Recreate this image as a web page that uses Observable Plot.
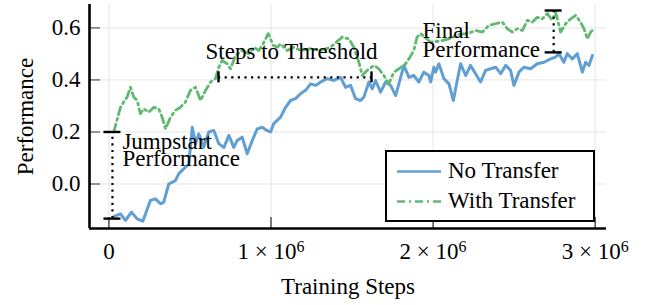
<!DOCTYPE html>
<html><head><meta charset="utf-8">
<script src="https://cdn.jsdelivr.net/npm/d3@7"></script>
<script src="https://cdn.jsdelivr.net/npm/@observablehq/plot@0.6"></script>
<style>
body{margin:0;background:#fff;}
#wrap{position:relative;width:657px;height:305px;font-family:"Liberation Serif",serif;}
#legend{position:absolute;left:385px;top:150px;width:210px;height:72px;box-sizing:border-box;border:2px solid #000;background:#fff;}
.lrow{position:absolute;left:10px;height:20px;font-size:23px;line-height:20px;white-space:nowrap;}
.lrow svg{position:absolute;left:0;top:0;}
.lrow span{position:absolute;left:51px;top:0px;}
</style>
</head><body>
<div id="wrap"></div>
<script>
// ---- data (x in millions of steps) ----
const noTransferX = [0.030,0.071,0.102,0.139,0.174,0.209,0.256,0.287,0.318,0.338,0.369,0.410,0.431,0.472,0.493,0.514,0.534,0.554,0.585,0.616,0.647,0.678,0.709,0.740,0.770,0.791,0.822,0.853,0.884,0.915,0.946,0.977,0.997,1.017,1.059,1.090,1.120,1.151,1.182,1.213,1.244,1.275,1.306,1.347,1.388,1.429,1.460,1.491,1.522,1.552,1.573,1.604,1.625,1.645,1.676,1.707,1.738,1.769,1.789,1.820,1.851,1.881,1.912,1.943,1.974,1.985,2.005,2.015,2.036,2.067,2.098,2.125,2.149,2.170,2.201,2.231,2.262,2.293,2.324,2.355,2.386,2.417,2.448,2.478,2.499,2.530,2.560,2.602,2.643,2.684,2.725,2.756,2.777,2.807,2.828,2.859,2.890,2.921,2.941,2.962,2.983];
const noTransferY = [-0.125,-0.115,-0.140,-0.108,-0.134,-0.143,-0.063,-0.057,-0.076,-0.070,0.000,0.013,0.040,0.065,0.078,0.218,0.155,0.193,0.142,0.200,0.206,0.155,0.140,0.187,0.141,0.167,0.180,0.116,0.167,0.212,0.218,0.205,0.200,0.232,0.257,0.295,0.321,0.328,0.347,0.360,0.385,0.379,0.392,0.405,0.398,0.410,0.372,0.379,0.328,0.321,0.334,0.392,0.366,0.398,0.353,0.392,0.379,0.340,0.385,0.456,0.410,0.417,0.392,0.430,0.417,0.392,0.449,0.430,0.462,0.405,0.385,0.321,0.398,0.462,0.417,0.456,0.424,0.392,0.437,0.443,0.449,0.424,0.456,0.437,0.379,0.430,0.449,0.443,0.462,0.468,0.481,0.488,0.501,0.468,0.501,0.481,0.501,0.430,0.468,0.456,0.494];
const withTransferX = [0.030,0.051,0.071,0.091,0.112,0.133,0.153,0.174,0.194,0.215,0.246,0.277,0.307,0.328,0.349,0.380,0.410,0.441,0.472,0.503,0.534,0.565,0.596,0.627,0.657,0.678,0.699,0.730,0.750,0.781,0.822,0.863,0.894,0.925,0.956,0.983,1.014,1.038,1.059,1.100,1.141,1.182,1.244,1.306,1.367,1.440,1.480,1.511,1.542,1.563,1.594,1.635,1.665,1.696,1.727,1.758,1.789,1.830,1.851,1.881,1.901,1.923,1.985,2.046,2.108,2.157,2.211,2.262,2.304,2.344,2.386,2.427,2.458,2.489,2.520,2.551,2.581,2.612,2.643,2.674,2.705,2.736,2.756,2.787,2.818,2.849,2.880,2.910,2.931,2.952,2.972,2.983];
const withTransferY = [0.200,0.250,0.295,0.315,0.334,0.372,0.334,0.321,0.270,0.289,0.276,0.295,0.289,0.257,0.212,0.257,0.283,0.295,0.315,0.360,0.372,0.321,0.360,0.392,0.405,0.449,0.475,0.462,0.443,0.494,0.513,0.501,0.526,0.513,0.545,0.578,0.533,0.526,0.539,0.513,0.526,0.513,0.520,0.513,0.526,0.565,0.558,0.526,0.468,0.417,0.437,0.456,0.443,0.417,0.385,0.430,0.443,0.462,0.481,0.513,0.565,0.578,0.545,0.550,0.560,0.575,0.578,0.590,0.584,0.610,0.616,0.622,0.597,0.584,0.597,0.590,0.629,0.622,0.641,0.635,0.655,0.629,0.661,0.584,0.616,0.635,0.648,0.622,0.597,0.558,0.584,0.590];
const seriesNames = ["No Transfer", "With Transfer"];
const xTicks = [0, 1e6, 2e6, 3e6];
const yTicks = [0, 0.2, 0.4, 0.6];
// annotations
const jumpstart = {x: 0.0216e6, y1: -0.133, y2: 0.2};
const finalPerf = {x: 2.744e6, y1: 0.506, y2: 0.667};
const threshold = {y: 0.41, x1: 0.676e6, x2: 1.62e6};
const annotationLabels = [
  {text: "Steps to Threshold", x: 0.596e6, y: 0.482, lh: 1},
  {text: "Jumpstart\nPerformance", x: 0.083e6, y: 0.071, lh: 0.72},
  {text: "Final\nPerformance", x: 1.935e6, y: 0.487, lh: 0.86}
];

const blue = "#5f9fd3", green = "#5fba70";
const noTransfer = noTransferX.map((x, i) => ({x: x * 1e6, y: noTransferY[i]}));
const withTransfer = withTransferX.map((x, i) => ({x: x * 1e6, y: withTransferY[i]}));
const xDomain = [-0.12e6, 3.07e6], yDomain = [-0.171, 0.69];
const capH = [
  {x: jumpstart.x, y: jumpstart.y1}, {x: jumpstart.x, y: jumpstart.y2},
  {x: finalPerf.x, y: finalPerf.y1}, {x: finalPerf.x, y: finalPerf.y2}
];
const capV = [{x: threshold.x1, y: threshold.y}, {x: threshold.x2, y: threshold.y}];

const plot = Plot.plot({
  width: 657, height: 305,
  marginLeft: 89, marginRight: 51, marginTop: 4, marginBottom: 77,
  style: {fontFamily: "'Liberation Serif', serif", fontSize: "23px", color: "#000", background: "transparent", overflow: "visible"},
  x: {domain: xDomain},
  y: {domain: yDomain},
  marks: [
    Plot.gridX(xTicks, {stroke: "#e5e5e5", strokeOpacity: 1, strokeWidth: 1}),
    Plot.gridY(yTicks, {stroke: "#e5e5e5", strokeOpacity: 1, strokeWidth: 1}),
    Plot.line(noTransfer, {x: "x", y: "y", stroke: blue, strokeWidth: 3}),
    Plot.line(withTransfer, {x: "x", y: "y", stroke: green, strokeWidth: 2.8, strokeDasharray: "8,4,2,4"}),
    // annotations
    Plot.ruleX([jumpstart, finalPerf], {x: "x", y1: "y1", y2: "y2", stroke: "#000", strokeWidth: 2.2, strokeDasharray: "2.2,4.4"}),
    Plot.ruleY([threshold], {y: "y", x1: "x1", x2: "x2", stroke: "#000", strokeWidth: 2.2, strokeDasharray: "2.2,4.4"}),
    Plot.ruleY(capH, {y: "y", x1: "x", x2: "x", insetLeft: -8.5, insetRight: -8.5, stroke: "#000", strokeWidth: 2.4}),
    Plot.ruleX(capV, {x: "x", y1: "y", y2: "y", insetTop: -5.5, insetBottom: -5.5, stroke: "#000", strokeWidth: 2.4}),
    ...annotationLabels.map(a => Plot.text([a], {x: "x", y: "y", text: "text", textAnchor: "start", lineAnchor: "bottom", lineHeight: a.lh, fill: "#000", fontSize: 23})),
    // axes
    Plot.tickY(yTicks, {stroke: "#333", strokeWidth: 1, insetRight: 506}),
    Plot.tickX(xTicks, {stroke: "#000", strokeWidth: 1, insetTop: 213}),
    Plot.axisY(yTicks, {tickSize: 0, tickPadding: 9, tickFormat: d3.format(".1f"), label: null, fontSize: 23}),
    Plot.axisX(xTicks, {tickSize: 0, tickPadding: 14, tickFormat: d => d === 0 ? "0" : `${d / 1e6} × 10^6`, label: null, fontSize: 23}),
    Plot.ruleX([xDomain[0]], {stroke: "#000", strokeWidth: 2.6}),
    Plot.ruleY([yDomain[0]], {stroke: "#000", strokeWidth: 2.6}),
    Plot.text(["Performance"], {frameAnchor: "left", text: d => d, rotate: -90, dx: -64, textAnchor: "middle", lineAnchor: "middle", fontSize: 23}),
    Plot.text(["Training Steps"], {frameAnchor: "bottom", text: d => d, dy: 65, textAnchor: "middle", lineAnchor: "bottom", fontSize: 23})
  ]
});

// superscript exponents in x tick labels
d3.select(plot).selectAll("text").each(function () {
  const t = this.textContent;
  if (t.includes("^")) {
    const [base, exp] = t.split("^");
    const sel = d3.select(this);
    sel.text(null);
    sel.append("tspan").text(base);
    sel.append("tspan").attr("dy", "-0.45em").attr("font-size", "16px").text(exp);
  }
});

const wrap = document.getElementById("wrap");
wrap.appendChild(plot);

// legend
const legend = document.createElement("div");
legend.id = "legend";
const styles = [{stroke: blue, dash: null}, {stroke: green, dash: "8,4,2,4"}];
seriesNames.forEach((name, i) => {
  const row = document.createElement("div");
  row.className = "lrow";
  row.style.top = (i === 0 ? 9 : 39) + "px";
  row.innerHTML = `<svg width="46" height="20"><line x1="0" x2="44" y1="10.5" y2="10.5" stroke="${styles[i].stroke}" stroke-width="2.4" ${styles[i].dash ? `stroke-dasharray="${styles[i].dash}"` : ""}/></svg><span>${name}</span>`;
  legend.appendChild(row);
});
wrap.appendChild(legend);
</script>
</body></html>
